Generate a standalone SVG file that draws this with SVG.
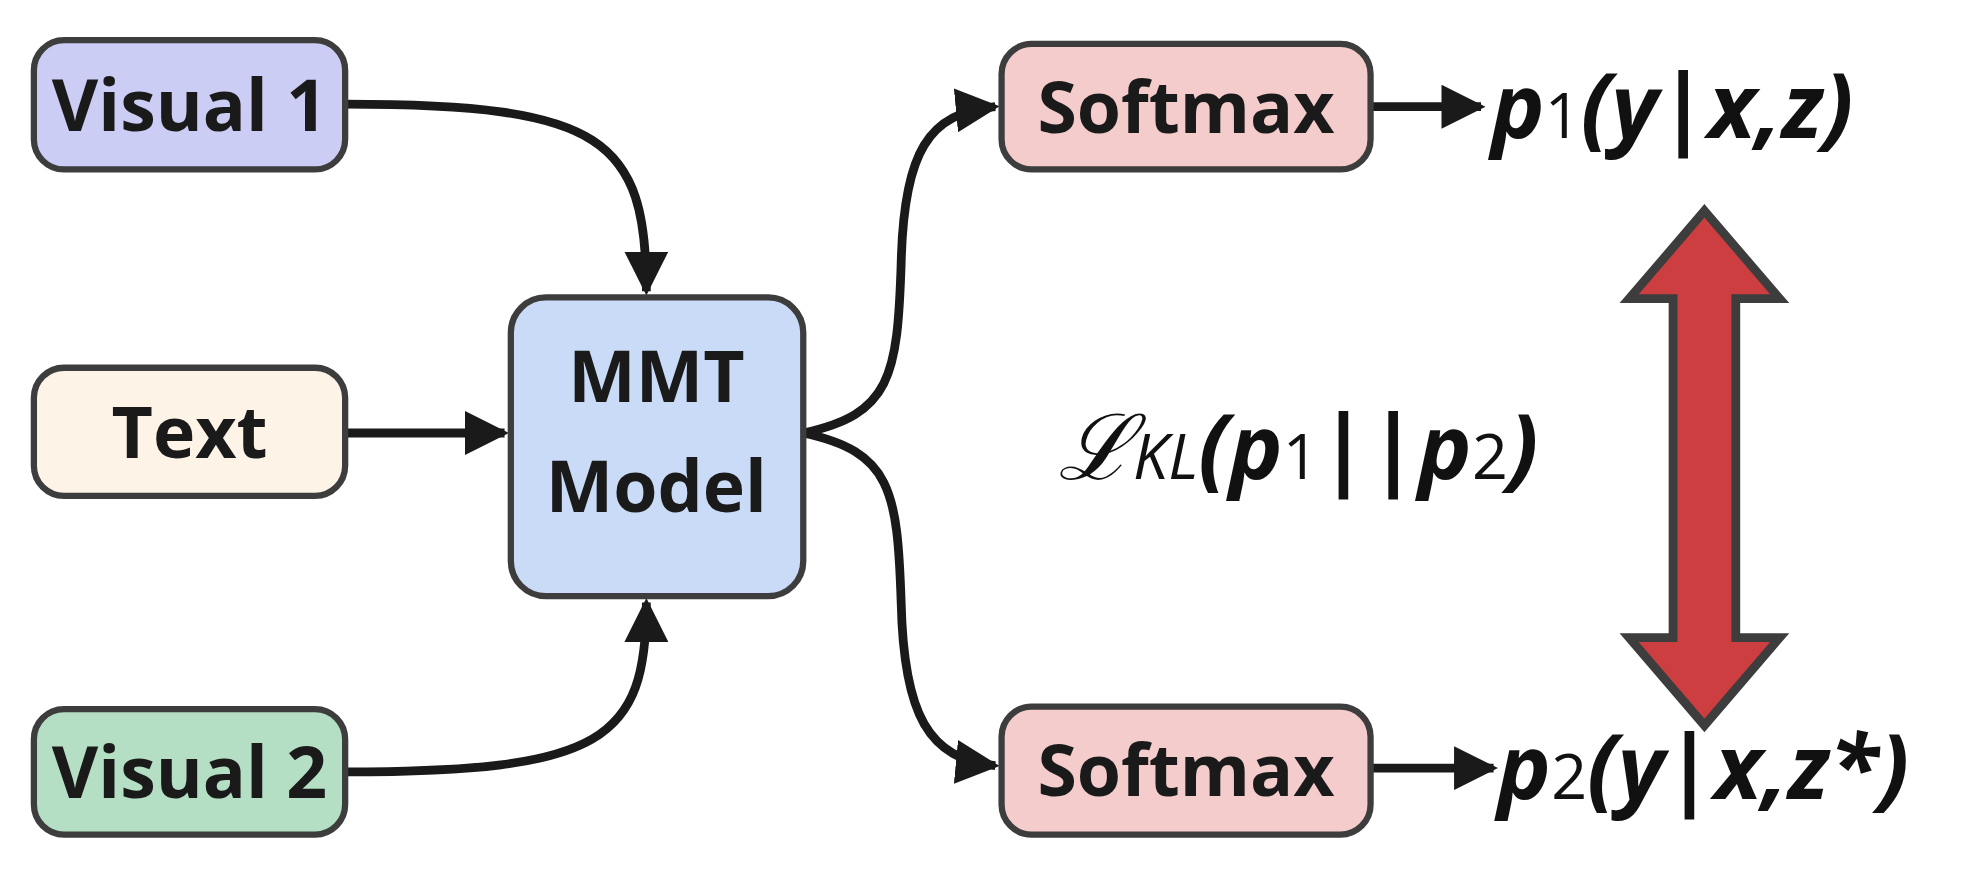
<svg xmlns="http://www.w3.org/2000/svg" width="1968" height="877" viewBox="0 0 1968 877">
<defs>
<style>
.box{stroke:#3d3d3d;stroke-width:5}
.lbl{font-family:"Open Sans","Liberation Sans",sans-serif;font-weight:bold;font-size:57px;fill:#1a1a1a;text-anchor:middle}
.math{font-family:"Open Sans","Liberation Sans",sans-serif;font-weight:bold;font-style:italic;font-size:72px;fill:#111}
.sub{font-style:normal;font-weight:normal;font-size:50px}
.c{fill:none;stroke:#1a1a1a;stroke-width:7}
</style>
<marker id="ah" viewBox="0 0 10 10" refX="9" refY="5" markerWidth="5" markerHeight="5" markerUnits="strokeWidth" orient="auto">
<path d="M0,0 L10,5 L0,10 z" fill="#1a1a1a"/>
</marker>
</defs>
<rect width="1968" height="877" fill="#fff"/>
<g transform="scale(1.2551)">
<g id="connectors">
<path class="c" d="M275,83 C480,83 515,110 515,232" marker-end="url(#ah)"/>
<path class="c" d="M275,345 L402,345" marker-end="url(#ah)"/>
<path class="c" d="M275,615 C480,615 515,590 515,480" marker-end="url(#ah)"/>
<path class="c" d="M640,345 C710,330 715,300 718,210 C720,120 740,90 793,85" marker-end="url(#ah)"/>
<path class="c" d="M640,345 C710,360 715,390 718,480 C720,570 740,605 793,610" marker-end="url(#ah)"/>
<path class="c" d="M1092,85 L1180,85" marker-end="url(#ah)"/>
<path class="c" d="M1092,612 L1190,612" marker-end="url(#ah)"/>
</g>
<g id="visual1"><rect class="box" x="27" y="32" width="248" height="103" rx="24" fill="#cbcdf5"/><text class="lbl" x="151" y="104">Visual 1</text></g>
<g id="text"><rect class="box" x="27" y="293" width="248" height="102" rx="24" fill="#fdf3e6"/><text class="lbl" x="151" y="365">Text</text></g>
<g id="visual2"><rect class="box" x="27" y="565" width="248" height="100" rx="24" fill="#b4dfc5"/><text class="lbl" x="151" y="636">Visual 2</text></g>
<g id="mmt"><rect class="box" x="407" y="237" width="233" height="238" rx="28" fill="#c9dbf6"/><text class="lbl" x="523" y="320">MMT</text><text class="lbl" x="523" y="408">Model</text></g>
<g id="softmax1"><rect class="box" x="798" y="35" width="294" height="100" rx="24" fill="#f4cccc"/><text class="lbl" x="945" y="106">Softmax</text></g>
<g id="softmax2"><rect class="box" x="798" y="563" width="294" height="102" rx="24" fill="#f4cccc"/><text class="lbl" x="945" y="634">Softmax</text></g>
<g id="kl"><path d="M1358,168 L1418,238 L1383,238 L1383,508 L1418,508 L1358,578 L1298,508 L1333,508 L1333,238 L1298,238 Z" fill="#cc3e40" stroke="#3d3d3d" stroke-width="7"/></g>
<g id="formulas">
<text class="math" x="1188" y="110">p<tspan class="sub">1</tspan>(y|x,z)</text>
<text class="math" x="1193" y="637">p<tspan class="sub">2</tspan>(y|x,z*)</text>
<text class="math" x="843" y="382"><tspan font-family="Liberation Serif,serif" font-weight="normal">ℒ</tspan><tspan font-size="50" font-weight="normal">KL</tspan>(p<tspan class="sub">1</tspan>||p<tspan class="sub">2</tspan>)</text>
</g>
</g>
</svg>
